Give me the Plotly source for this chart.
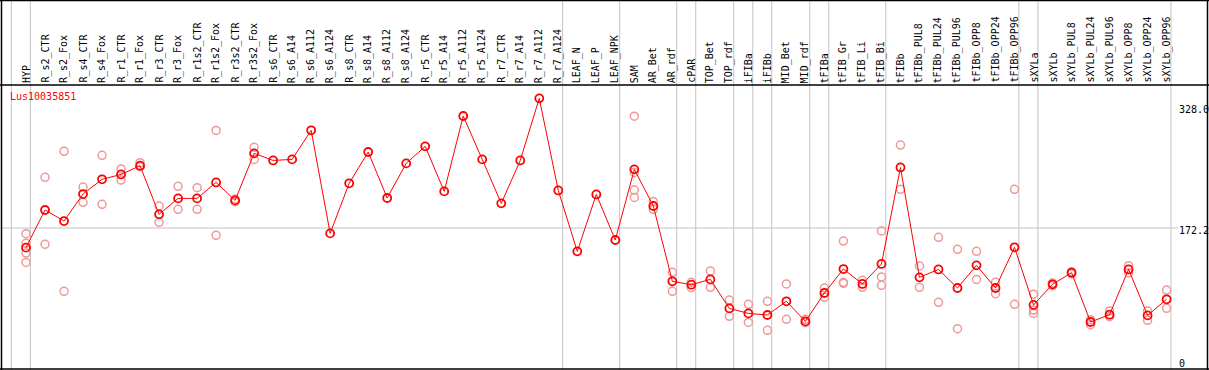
import plotly.graph_objects as go

categories = ["HYP", "R_s2_CTR", "R_s2_Fox", "R_s4_CTR", "R_s4_Fox", "R_r1_CTR", "R_r1_Fox",
              "R_r3_CTR", "R_r3_Fox", "R_r1s2_CTR", "R_r1s2_Fox", "R_r3s2_CTR", "R_r3s2_Fox",
              "R_s6_CTR", "R_s6_A14", "R_s6_A112", "R_s6_A124", "R_s8_CTR", "R_s8_A14", "R_s8_A112",
              "R_s8_A124", "R_r5_CTR", "R_r5_A14", "R_r5_A112", "R_r5_A124", "R_r7_CTR", "R_r7_A14",
              "R_r7_A112", "R_r7_A124", "LEAF_N", "LEAF_P", "LEAF_NPK", "SAM", "AR_Bet", "AR_rdf",
              "cPAR", "TOP_Bet", "TOP_rdf", "iFIBa", "iFIBb", "MID_Bet", "MID_rdf", "tFIBa",
              "tFIB_Gr", "tFIB_Li", "tFIB_Bi", "tFIBb", "tFIBb_PUL8", "tFIBb_PUL24", "tFIBb_PUL96",
              "tFIBb_OPP8", "tFIBb_OPP24", "tFIBb_OPP96", "sXYLa", "sXYLb", "sXYLb_PUL8",
              "sXYLb_PUL24", "sXYLb_PUL96", "sXYLb_OPP8", "sXYLb_OPP24", "sXYLb_OPP96"]

mean_values = [147, 195.4, 181.2, 215.9, 234.8, 241.1, 252.3,
               189.8, 210.3, 210.3, 230.8, 207.7, 268.2,
               259.1, 260.4, 297.8, 165.3, 229.7, 269.9, 210.8,
               255.3, 277.2, 219.3, 316.2, 260.4, 203.9, 259.1,
               338.9, 220.5, 142.2, 215.4, 156.8, 247.6, 200.5, 103.7,
               99.4, 106.2, 68.9, 62.5, 60.4, 78.0, 52.2, 88.7,
               119.5, 100.3, 126.0, 250.1, 108.8, 119.0, 95.1,
               124.2, 95.1, 147.4, 73.3, 99.9, 114.8,
               51.4, 60.8, 119.0, 59.9, 80.6]

replicates = [[165, 152.5, 140, 128], [237.4, 151.2], [270.8, 90.8], [224.9, 205.3], [265.6, 202.7],
              [248.1, 233.9], [256.2, 251.1], [200.5, 179.6], [225.8, 196.2], [224.1, 196.2],
              [297.7, 162.8], [209.5, 206], [275.9, 260.4],
              [], [], [], [], [], [], [], [], [], [], [], [], [], [], [], [], [], [], [],
              [316, 243.7, 221, 211.5], [206.4, 196.2], [115.2, 90.8], [102.4, 95.5], [117, 96],
              [79.7, 58.7], [74.1, 50.9], [78, 40.7], [100.3, 54.9], [54.9, 50.5], [95.1, 83.2],
              [155.5, 102.4, 101.2], [105, 96], [168.4, 109.3, 98.6], [278.9, 221.9],
              [123.4, 96], [160.2, 76.7], [144.8, 42.8], [142.2, 106.2], [102.4, 87.8],
              [221.9, 74.1], [87.2, 66.8, 62.5], [101.5, 98], [116, 113.5], [54.4, 47.9],
              [65.6, 58.3], [123.8, 114.4], [65.6, 53.6], [92.5, 69]]

# categories after which a grey separator is drawn (None = before the first)
separators_after = [None, "HYP", "R_r7_A124", "LEAF_NPK", "AR_rdf", "cPAR", "TOP_rdf", "iFIBa",
                    "iFIBb", "MID_rdf", "tFIBa", "tFIB_Bi", "tFIBb_OPP96", "sXYLa", "sXYLb_OPP96"]

y_tick_values = [328.0, 172.2, 0]
y_tick_labels = ["328.0", "172.2", "0"]
gene_name = "Lus10035851"

W, H = 1209, 370
x0_px, dx_px = 26.0, 19.01
y0_px, dy_px = 362.0, 0.778

def px_to_x(p):
    return (p - x0_px) / dx_px

def py_to_v(y):
    return (y0_px - y) / dy_px

idx = list(range(len(categories)))
FONT = "DejaVu Sans Mono"

fig = go.Figure()

rx, ry = [], []
for i, reps in enumerate(replicates):
    for v in reps:
        rx.append(i)
        ry.append(v)
fig.add_trace(go.Scatter(x=rx, y=ry, mode="markers",
                         marker=dict(symbol="circle-open", size=8, color="#f09898",
                                     line=dict(width=1.5, color="#f09898")),
                         hoverinfo="skip", showlegend=False))
fig.add_trace(go.Scatter(x=idx, y=mean_values, mode="lines+markers",
                         line=dict(color="#ff0000", width=1),
                         marker=dict(symbol="circle-open", size=8, color="#ff0000",
                                     line=dict(width=1.8, color="#ff0000")),
                         text=categories, showlegend=False))

shapes = []
# grey separators
for name in separators_after:
    i = -1 if name is None else categories.index(name)
    xs = i + 0.23
    shapes.append(dict(type="line", xref="x", yref="paper", x0=xs, x1=xs, y0=0, y1=1,
                       line=dict(color="#c4c4c4", width=1), layer="below"))
# grey horizontal reference line at the middle tick
shapes.append(dict(type="line", xref="paper", yref="y", x0=2 / W, x1=1178 / W,
                   y0=y_tick_values[1], y1=y_tick_values[1],
                   line=dict(color="#c4c4c4", width=1), layer="below"))
# black frame and header separator
for (xa, ya, xb, yb) in [(0, 0.5, W, 0.5), (1.5, 0, 1.5, H), (1207.5, 0, 1207.5, H),
                         (0, 369, W, 369), (0, 85, W, 85)]:
    shapes.append(dict(type="line", xref="paper", yref="paper",
                       x0=xa / W, x1=xb / W, y0=1 - ya / H, y1=1 - yb / H,
                       line=dict(color="#000000", width=1.5)))

annotations = []
for i, name in enumerate(categories):
    annotations.append(dict(x=i, y=py_to_v(84), xref="x", yref="y", text=name,
                            textangle=-90, showarrow=False, xanchor="center", yanchor="bottom",
                            font=dict(family=FONT, size=10, color="#000000"), borderpad=0))
annotations.append(dict(x=9 / W, y=1 - 90 / H, xref="paper", yref="paper", text=gene_name,
                        showarrow=False, xanchor="left", yanchor="top",
                        font=dict(family=FONT, size=10, color="#ff0000"), borderpad=0))
for v, t in zip(y_tick_values, y_tick_labels):
    if v == 0:
        annotations.append(dict(x=1178 / W, y=v, xref="paper", yref="y", text=t,
                                showarrow=False, xanchor="left", yanchor="bottom", yshift=-8,
                                font=dict(family=FONT, size=10, color="#000000"), borderpad=0))
    else:
        annotations.append(dict(x=1178 / W, y=v, xref="paper", yref="y", text=t,
                                showarrow=False, xanchor="left", yanchor="top", yshift=4,
                                font=dict(family=FONT, size=10, color="#000000"), borderpad=0))

fig.update_layout(
    width=W, height=H,
    margin=dict(l=0, r=0, t=0, b=0),
    paper_bgcolor="#ffffff", plot_bgcolor="#ffffff",
    xaxis=dict(range=[px_to_x(0), px_to_x(W)], visible=False, domain=[0, 1]),
    yaxis=dict(range=[py_to_v(H), py_to_v(0)], visible=False, domain=[0, 1]),
    shapes=shapes, annotations=annotations,
    showlegend=False,
)

fig.write_html("out.html", config={"displayModeBar": False},
               post_script="document.body.style.margin='0';document.body.style.overflow='hidden';")
